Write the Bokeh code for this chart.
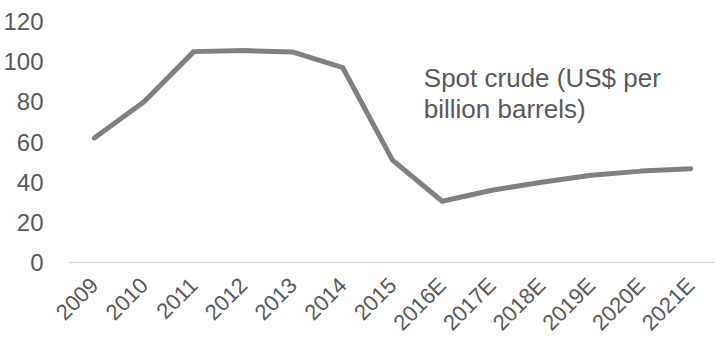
import math
from bokeh.plotting import figure
from bokeh.models import FactorRange, Range1d, SingleIntervalTicker, Label, ColumnDataSource
from bokeh.embed import file_html
from bokeh.resources import INLINE

years = ["2009", "2010", "2011", "2012", "2013", "2014", "2015",
         "2016E", "2017E", "2018E", "2019E", "2020E", "2021E"]
spot_crude = [62, 80, 105, 105.5, 104.8, 97, 51, 30.5, 36, 40, 43.4, 45.5, 46.7]
label_lines = ["Spot crude (US$ per", "billion barrels)"]

FONT = "Liberation Sans"
TEXT_COLOR = "#595959"

p = figure(width=715, height=347, output_backend="svg", toolbar_location=None,
           x_range=FactorRange(*years, range_padding=0),
           y_range=Range1d(0, 120),
           min_border_left=66, min_border_right=0, min_border_top=21, min_border_bottom=82)

src = ColumnDataSource(dict(x=years, y=spot_crude))
p.line("x", "y", source=src, line_color="#808080", line_width=5, line_join="round", line_cap="round")

p.outline_line_color = None
p.xgrid.grid_line_color = None
p.ygrid.grid_line_color = None
p.background_fill_color = "white"
p.border_fill_color = "white"

p.yaxis.ticker = SingleIntervalTicker(interval=20)
p.yaxis.axis_line_color = None
p.yaxis.major_tick_line_color = None
p.yaxis.minor_tick_line_color = None
p.yaxis.major_tick_out = 0
p.yaxis.major_label_standoff = 22
p.yaxis.major_label_text_font = FONT
p.yaxis.major_label_text_font_size = "24px"
p.yaxis.major_label_text_color = TEXT_COLOR

p.xaxis.axis_line_color = "#d9d9d9"
p.xaxis.axis_line_width = 1.5
p.xaxis.major_tick_line_color = None
p.xaxis.minor_tick_line_color = None
p.xaxis.major_tick_out = 0
p.xaxis.major_label_standoff = 19
p.xaxis.major_label_orientation = math.pi / 4
p.xaxis.major_label_text_font = FONT
p.xaxis.major_label_text_font_size = "22px"
p.xaxis.major_label_text_color = TEXT_COLOR

for txt, yv in zip(label_lines, [91.8, 76.2]):
    p.add_layout(Label(x=7.13, y=yv, text=txt, text_font=FONT, text_font_size="26px",
                       text_color=TEXT_COLOR, text_baseline="alphabetic", text_align="left"))

open("out.html", "w").write(file_html(p, INLINE))
